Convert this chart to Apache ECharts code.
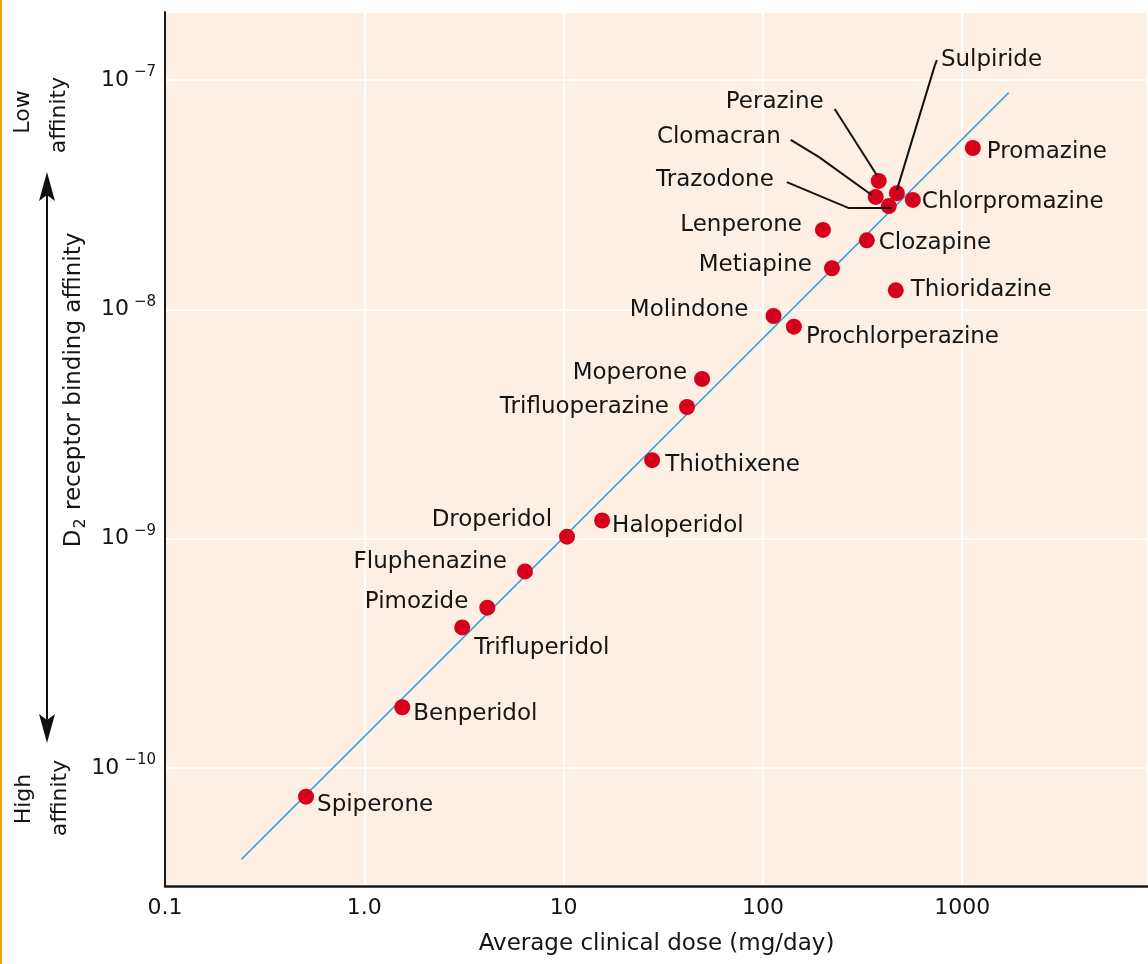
<!DOCTYPE html>
<html><head><meta charset="utf-8">
<script src="https://cdn.jsdelivr.net/npm/echarts@6/dist/echarts.min.js"></script>
<style>html,body{margin:0;padding:0;background:#fff}#c{width:1148px;height:964px}</style>
</head><body><div id="c"></div>
<script>
// ---- data ----
const drugs = ['Spiperone','Benperidol','Trifluperidol','Pimozide','Fluphenazine','Droperidol','Haloperidol','Thiothixene','Trifluoperazine','Moperone','Molindone','Prochlorperazine','Metiapine','Thioridazine','Clozapine','Lenperone','Chlorpromazine','Promazine','Perazine','Clomacran','Trazodone','Sulpiride'];
const doses = [0.51,1.55,3.1,4.14,6.4,10.4,15.6,27.8,41.6,49.5,113,143,222,464,332,200,565,1130,381,368,428,470];
const affinities = [7.5e-11,1.84e-10,4.1e-10,5.0e-10,7.2e-10,1.02e-9,1.2e-9,2.2e-9,3.75e-9,4.97e-9,9.35e-9,8.4e-9,1.51e-8,1.21e-8,2.0e-8,2.22e-8,3.0e-8,5.05e-8,3.63e-8,3.09e-8,2.82e-8,3.21e-8];
const fitDose = [0.242, 1710];
const fitAffinity = [4.0e-11, 8.8e-8];
const xTickLabels = {'-1':'0.1','0':'1.0','1':'10','2':'100','3':'1000'};
const yTickExponents = [-10,-9,-8,-7];

// ---- label layout (pixel offsets from marker centre) ----
const labelAlign = ['left','left','left','right','right','right','left','left','right','right','right','left','right','left','left','right','left','left','right','right','right','left'];
const labelOffset = [[11,8],[11,7],[12,21],[-19,-6],[-18,-9],[-15,-17],[10,6],[13,5],[-18,0],[-15,-6],[-25,-6],[12,10],[-20,-3],[15,0],[12,3],[-21,-5],[9,2],[14,4],[-55,-79],[-95,-60],[-115,-26],[44,-133]];
const leaders = {
  'Perazine': [[-44,-72],[-2,-6]],
  'Clomacran': [[-85,-57],[-57,-40],[-4,-2]],
  'Trazodone': [[-102,-24],[-40,2],[3,2]],
  'Sulpiride': [[40,-133],[38,-128],[0,-3]]
};

const FONT = "'DejaVu Sans', sans-serif";
const TXT = '#151515';

const scatterData = drugs.map((n, i) => ({
  name: n,
  value: [doses[i], affinities[i]],
  label: {show: true, position: 'inside', align: labelAlign[i], verticalAlign: 'middle', offset: labelOffset[i]}
}));
const leaderData = drugs.map((n, i) => leaders[n] ? {name: n, value: [doses[i], affinities[i]]} : null).filter(Boolean);

const chart = echarts.init(document.getElementById('c'), null, {renderer: 'canvas'});
chart.setOption({
  animation: false,
  backgroundColor: '#ffffff',
  grid: {left: 165, right: 0, top: 12, bottom: 78, show: true, backgroundColor: '#fdefe3', borderWidth: 0},
  xAxis: {
    type: 'log', logBase: 10, min: 0.1, max: 8550,
    axisLine: {show: true, onZero: false, lineStyle: {color: '#1a1a1a', width: 2.5}},
    axisTick: {show: false},
    splitLine: {show: true, lineStyle: {color: '#ffffff', width: 2}},
    axisLabel: {
      margin: 11, fontFamily: FONT, fontSize: 22, color: TXT, showMaxLabel: false,
      formatter: v => { const l = Math.log10(v), e = Math.round(l); return (Math.abs(l - e) < 1e-6 && xTickLabels[e] !== undefined) ? xTickLabels[e] : ''; }
    },
    name: 'Average clinical dose (mg/day)', nameLocation: 'middle', nameGap: 47,
    nameTextStyle: {fontFamily: FONT, fontSize: 23, color: TXT}
  },
  yAxis: {
    type: 'log', logBase: 10, min: 3.058e-11, max: 1.979e-7,
    axisLine: {show: true, onZero: false, lineStyle: {color: '#1a1a1a', width: 2}},
    axisTick: {show: false},
    splitLine: {show: true, lineStyle: {color: '#ffffff', width: 2}},
    axisLabel: {
      margin: 9, showMinLabel: false, showMaxLabel: false,
      formatter: v => { const l = Math.log10(v), e = Math.round(l); return (Math.abs(l - e) < 1e-6 && yTickExponents.indexOf(e) >= 0) ? '{b|10}{s|\u2212' + Math.abs(e) + '}' : ''; },
      rich: {
        b: {fontFamily: FONT, fontSize: 22, lineHeight: 22, color: TXT, verticalAlign: 'bottom'},
        s: {fontFamily: FONT, fontSize: 15, lineHeight: 15, color: TXT, padding: [0, 0, 11, 5], verticalAlign: 'bottom'}
      }
    }
  },
  series: [
    {
      type: 'line', data: fitDose.map((d, i) => [d, fitAffinity[i]]), symbol: 'none',
      lineStyle: {color: '#2c9fe0', width: 1.6}, silent: true, z: 2
    },
    {
      type: 'scatter', data: scatterData, symbol: 'circle', symbolSize: 16,
      itemStyle: {color: '#d6001c', opacity: 1}, z: 3,
      label: {formatter: '{b}', fontFamily: FONT, fontSize: 23, color: TXT, opacity: 1},
      emphasis: {disabled: true}
    },
    {
      type: 'custom', data: leaderData, z: 4, silent: true,
      renderItem: (params, api) => {
        const p = api.coord([api.value(0), api.value(1)]);
        const name = leaderData[params.dataIndex].name;
        const pts = leaders[name].map(o => [p[0] + o[0], p[1] + o[1]]);
        return {type: 'polyline', shape: {points: pts}, style: {stroke: '#111', lineWidth: 2, fill: null}};
      }
    }
  ],
  graphic: [
    {type: 'rect', left: 0, top: 0, shape: {x: 0, y: 0, width: 2, height: 964}, style: {fill: '#f0a000'}},
    {type: 'line', shape: {x1: 47, y1: 185, x2: 47, y2: 730}, style: {stroke: '#111', lineWidth: 2}},
    {type: 'polygon', shape: {points: [[47, 172], [39, 201], [47, 195], [55, 201]]}, style: {fill: '#111'}},
    {type: 'polygon', shape: {points: [[47, 743], [39, 714], [47, 720], [55, 714]]}, style: {fill: '#111'}},
    {type: 'text', x: 23, y: 112, rotation: Math.PI / 2, style: {text: 'Low', font: "22px 'DejaVu Sans'", fill: TXT, align: 'center', verticalAlign: 'middle'}},
    {type: 'text', x: 59, y: 115, rotation: Math.PI / 2, style: {text: 'affinity', font: "22px 'DejaVu Sans'", fill: TXT, align: 'center', verticalAlign: 'middle'}},
    {type: 'text', x: 24, y: 799, rotation: Math.PI / 2, style: {text: 'High', font: "22px 'DejaVu Sans'", fill: TXT, align: 'center', verticalAlign: 'middle'}},
    {type: 'text', x: 60, y: 798, rotation: Math.PI / 2, style: {text: 'affinity', font: "22px 'DejaVu Sans'", fill: TXT, align: 'center', verticalAlign: 'middle'}},
    {type: 'text', x: 74, y: 390, rotation: Math.PI / 2, style: {
      text: '{m|D}{sub|2}{m| receptor binding affinity}', align: 'center', verticalAlign: 'middle',
      rich: {
        m: {fontFamily: FONT, fontSize: 23, lineHeight: 23, fill: TXT, color: TXT, verticalAlign: 'top'},
        sub: {fontFamily: FONT, fontSize: 16, lineHeight: 16, fill: TXT, color: TXT, padding: [10, 1, 0, 1], verticalAlign: 'top'}
      }
    }}
  ]
});
</script></body></html>
